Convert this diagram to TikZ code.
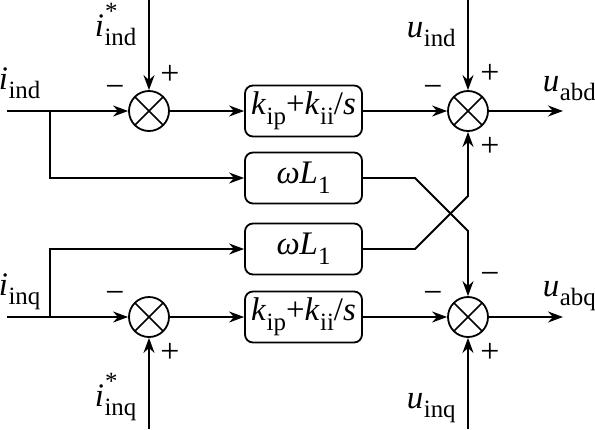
\documentclass[tikz,border=0pt]{standalone}
\usepackage{fontspec}
\setmainfont{Liberation Serif}
\usetikzlibrary{arrows.meta}
\newcommand{\subfnt}{\fontsize{25}{25}\selectfont}
\newcommand{\vsub}[2]{\textit{#1}\kern0.5pt\raisebox{-0.3em}{\subfnt #2}}
\newcommand{\vstar}[2]{\textit{#1}\rlap{\kern1pt\raisebox{0.5em}{\subfnt *}}\kern0.5pt\raisebox{-0.3em}{\subfnt #2}}
\begin{document}
\begin{tikzpicture}[x=1bp,y=-1bp,
  line width=1.8bp,
  >={Stealth[length=15bp,width=11bp]},
  sumnode/.style={draw,circle,minimum size=40bp,inner sep=0pt,
    path picture={\draw[line width=1.5bp]
      (path picture bounding box.north west)--(path picture bounding box.south east)
      (path picture bounding box.north east)--(path picture bounding box.south west);}},
  blk/.style={draw,rounded corners=8bp,minimum width=117bp,minimum height=51bp,inner sep=0pt,
    font=\fontsize{33}{38}\selectfont},
  lbl/.style={inner sep=0pt,anchor=base west,font=\fontsize{33}{38}\selectfont},
  sgn/.style={inner sep=0pt,font=\fontsize{34}{38}\selectfont}]
\useasboundingbox (0,0) rectangle (595,429);
% summing junctions
\node[sumnode] (s1) at (149,111) {};
\node[sumnode] (s2) at (468,111) {};
\node[sumnode] (s3) at (468,317) {};
\node[sumnode] (s4) at (149,317) {};
% blocks
\node[blk] (b1) at (303.5,111) {\vsub{k}{ip}+\vsub{k}{ii}/\textit{s}};
\node[blk] (b2) at (303.5,178) {\textit{ω}\textit{L}\raisebox{-0.3em}{\subfnt 1}};
\node[blk] (b3) at (303.5,249) {\textit{ω}\textit{L}\raisebox{-0.3em}{\subfnt 1}};
\node[blk] (b4) at (303.5,317) {\vsub{k}{ip}+\vsub{k}{ii}/\textit{s}};
% free ends
\coordinate (in1) at (7,111);
\coordinate (br1) at (50,111);
\coordinate (in2) at (7,317);
\coordinate (br2) at (50,317);
\coordinate (t1) at (149,0);
\coordinate (t2) at (468,0);
\coordinate (bt1) at (149,429);
\coordinate (bt2) at (468,429);
\coordinate (o1) at (563,111);
\coordinate (o2) at (563,317);
\coordinate (c1) at (415,178);
\coordinate (c2) at (468,231);
\coordinate (c3) at (415,249);
\coordinate (c4) at (468,196);
% connectors
\draw[->] (in1) -- (s1.west);
\draw[->] (br1) |- (b2.west);
\draw[->] (t1) -- (s1.north);
\draw[->] (s1.east) -- (b1.west);
\draw[->] (b1.east) -- (s2.west);
\draw[->] (t2) -- (s2.north);
\draw[->] (s2.east) -- (o1);
\draw[->] (b2.east) -- (c1) -- (c2) -- (s3.north);
\draw[->] (b3.east) -- (c3) -- (c4) -- (s2.south);
\draw[->] (in2) -- (s4.west);
\draw[->] (br2) |- (b3.west);
\draw[->] (bt1) -- (s4.south);
\draw[->] (s4.east) -- (b4.west);
\draw[->] (b4.east) -- (s3.west);
\draw[->] (bt2) -- (s3.south);
\draw[->] (s3.east) -- (o2);
% labels
\node[lbl] (l1) at (-2,89) {\vsub{i}{ind}};
\node[lbl] (l2) at (94,36) {\vstar{i}{ind}};
\node[lbl] (l3) at (406,37) {\vsub{u}{ind}};
\node[lbl] (l4) at (542,91) {\vsub{u}{abd}};
\node[lbl] (l5) at (-2,295) {\vsub{i}{inq}};
\node[lbl] (l6) at (94,406) {\vstar{i}{inq}};
\node[lbl] (l7) at (406,408) {\vsub{u}{inq}};
\node[lbl] (l8) at (542,296) {\vsub{u}{abq}};
% signs
\node[sgn] (g1) at (115,91) {−};
\node[sgn] (g2) at (170,75) {+};
\node[sgn] (g3) at (433,91) {−};
\node[sgn] (g4) at (490,74) {+};
\node[sgn] (g5) at (490,147) {+};
\node[sgn] (g6) at (490,278) {−};
\node[sgn] (g7) at (433,297) {−};
\node[sgn] (g8) at (490,353) {+};
\node[sgn] (g9) at (115,297) {−};
\node[sgn] (g10) at (170,353) {+};
\end{tikzpicture}
\end{document}
